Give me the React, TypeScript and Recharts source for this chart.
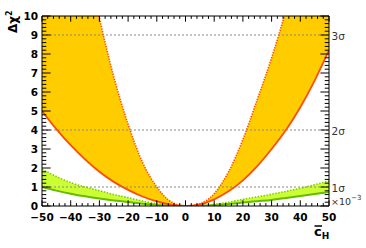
import { ComposedChart, Area, Line, XAxis, YAxis, ReferenceLine } from 'recharts';

// c_H values (x 10^-3)
const C_H = [-50, -45, -40, -35, -30, -25, -20, -15, -10, -5, 0, 5, 10, 15, 20, 25, 30, 35, 40, 45, 50];

// orange band: solid lower edge, dotted upper edge
const ORANGE_LOW = [5.0, 4.05, 3.2, 2.45, 1.8, 1.27, 0.85, 0.5, 0.24, 0.07, 0, 0.08, 0.35, 0.77, 1.35, 2.1, 3.0, 4.0, 5.2, 6.6, 8.2];
const ORANGE_HIGH = [27, 22, 17.6, 13.5, 9.9, 6.8, 4.3, 2.3, 1.0, 0.22, 0, 0.12, 0.65, 1.8, 3.5, 5.6, 7.8, 10.3, 13.2, 16.3, 19.6];

// green band
const GREEN_LOW = [1.0, 0.81, 0.65, 0.51, 0.39, 0.29, 0.21, 0.12, 0.06, 0.02, 0, 0.01, 0.05, 0.1, 0.18, 0.25, 0.32, 0.42, 0.53, 0.63, 0.74];
const GREEN_HIGH = [1.93, 1.55, 1.23, 1.0, 0.81, 0.6, 0.44, 0.26, 0.12, 0.03, 0, 0.02, 0.09, 0.2, 0.35, 0.48, 0.62, 0.77, 0.93, 1.12, 1.32];

const X_LABELS = [-50, -40, -30, -20, -10, 0, 10, 20, 30, 40, 50];
const Y_LABELS = [0, 1, 2, 3, 4, 5, 6, 7, 8, 9, 10];
const SIGMA_LEVELS = [1, 4, 9];
const SIGMA_LABELS = ['1σ', '2σ', '3σ'];

const X_TICKS: number[] = [];
for (let i = -25; i <= 25; i++) X_TICKS.push(i * 2);
const Y_TICKS: number[] = [];
for (let i = 0; i <= 50; i++) Y_TICKS.push(i / 5);

const W = 366;
const H = 248;
const MARGIN = { top: 16, right: 37, bottom: 12, left: 0 };
const PLOT_W = 287;
const PLOT_H = 190;

const BOLD = '"DejaVu Sans", sans-serif';
const RED = '#ff4d00';

const data = C_H.map((x, i) => ({
  x,
  orange: [ORANGE_LOW[i], ORANGE_HIGH[i]],
  green: [GREEN_LOW[i], GREEN_HIGH[i]],
  orangeLow: ORANGE_LOW[i],
  orangeHigh: ORANGE_HIGH[i],
  greenLow: GREEN_LOW[i],
  greenHigh: GREEN_HIGH[i],
}));

const fmt = (v: number) => (v < 0 ? '\u2212' + Math.abs(v) : String(v));

function XTick(props: any) {
  const { x, y, payload } = props;
  const v = payload.value;
  const major = X_LABELS.includes(v);
  const len = major ? 5.7 : 2.9;
  return (
    <g>
      <line x1={x} x2={x} y1={y} y2={y - len} stroke="#000" />
      <line x1={x} x2={x} y1={y - PLOT_H} y2={y - PLOT_H + len} stroke="#000" />
      {major && (
        <text x={x} y={y + 14.6} textAnchor="middle" fontFamily={BOLD} fontWeight="bold" fontSize={10.5} fill="#000">
          {fmt(v)}
        </text>
      )}
    </g>
  );
}

function YTick(props: any) {
  const { x, y, payload } = props;
  const v = payload.value;
  const major = Y_LABELS.some((l) => Math.abs(l - v) < 1e-6);
  const len = major ? 8.6 : 4.3;
  const s = SIGMA_LEVELS.findIndex((l) => Math.abs(l - v) < 1e-6);
  return (
    <g>
      <line x1={x} x2={x + len} y1={y} y2={y} stroke="#000" />
      <line x1={x + PLOT_W} x2={x + PLOT_W - len} y1={y} y2={y} stroke="#000" />
      {major && (
        <text x={x - 4} y={y + 3.8} textAnchor="end" fontFamily={BOLD} fontWeight="bold" fontSize={10.5} fill="#000">
          {Math.round(v)}
        </text>
      )}
      {s >= 0 && (
        <text x={x + PLOT_W + 2.5} y={y + 4.5} textAnchor="start" fontFamily={BOLD} fontSize={10.5} fill="#333">
          {SIGMA_LABELS[s]}
        </text>
      )}
    </g>
  );
}

export default function App() {
  return (
    <div style={{ position: 'absolute', left: 0, top: 0, width: W, height: H, background: '#fff' }}>
      <ComposedChart width={W} height={H} data={data} margin={MARGIN}>
        <XAxis
          dataKey="x"
          type="number"
          domain={[-50, 50]}
          ticks={X_TICKS}
          interval={0}
          tick={<XTick />}
          tickLine={false}
          tickSize={0}
          tickMargin={0}
          height={30}
          axisLine={{ stroke: '#000' }}
          allowDataOverflow
        />
        <YAxis
          type="number"
          domain={[0, 10]}
          ticks={Y_TICKS}
          interval={0}
          tick={<YTick />}
          tickLine={false}
          tickSize={0}
          tickMargin={0}
          width={42}
          axisLine={{ stroke: '#000' }}
          allowDataOverflow
        />
        <Area dataKey="green" type="monotone" fill="#ccff33" fillOpacity={1} stroke="none" isAnimationActive={false} />
        <Area dataKey="orange" type="monotone" fill="#ffcc00" fillOpacity={1} stroke="none" isAnimationActive={false} />
        <Line dataKey="greenLow" type="monotone" stroke="#66bb00" strokeWidth={2} dot={false} isAnimationActive={false} />
        <Line dataKey="greenHigh" type="monotone" stroke="#88cc00" strokeWidth={1.6} strokeDasharray="1.5 1.5" dot={false} isAnimationActive={false} />
        <Line dataKey="orangeLow" type="monotone" stroke={RED} strokeWidth={1.8} dot={false} isAnimationActive={false} />
        <Line dataKey="orangeHigh" type="monotone" stroke={RED} strokeWidth={1.6} strokeDasharray="1.3 1.3" dot={false} isAnimationActive={false} />
        {SIGMA_LEVELS.map((l) => (
          <ReferenceLine key={l} y={l} stroke="#888" strokeDasharray="2 2" />
        ))}
        <ReferenceLine y={10} stroke="#000" />
        <ReferenceLine x={50} stroke="#000" />
      </ComposedChart>
      <svg width={W} height={H} style={{ position: 'absolute', left: 0, top: 0, pointerEvents: 'none' }}>
        <text transform="translate(17,33) rotate(-90)" fontFamily={BOLD} fontWeight="bold" fontSize={12} fill="#000">
          Δχ<tspan dy={-5} fontSize={8}>2</tspan>
        </text>
        <text x={314} y={236} fontFamily={BOLD} fontWeight="bold" fontSize={13} fill="#000">
          c<tspan dy={3} fontSize={9}>H</tspan>
        </text>
        <line x1={314.5} x2={322} y1={226} y2={226} stroke="#000" strokeWidth={1.5} />
        <text x={331} y={205} fontFamily={BOLD} fontSize={9.5} fill="#333">
          ×10<tspan dy={-5} fontSize={7}>−3</tspan>
        </text>
      </svg>
    </div>
  );
}
